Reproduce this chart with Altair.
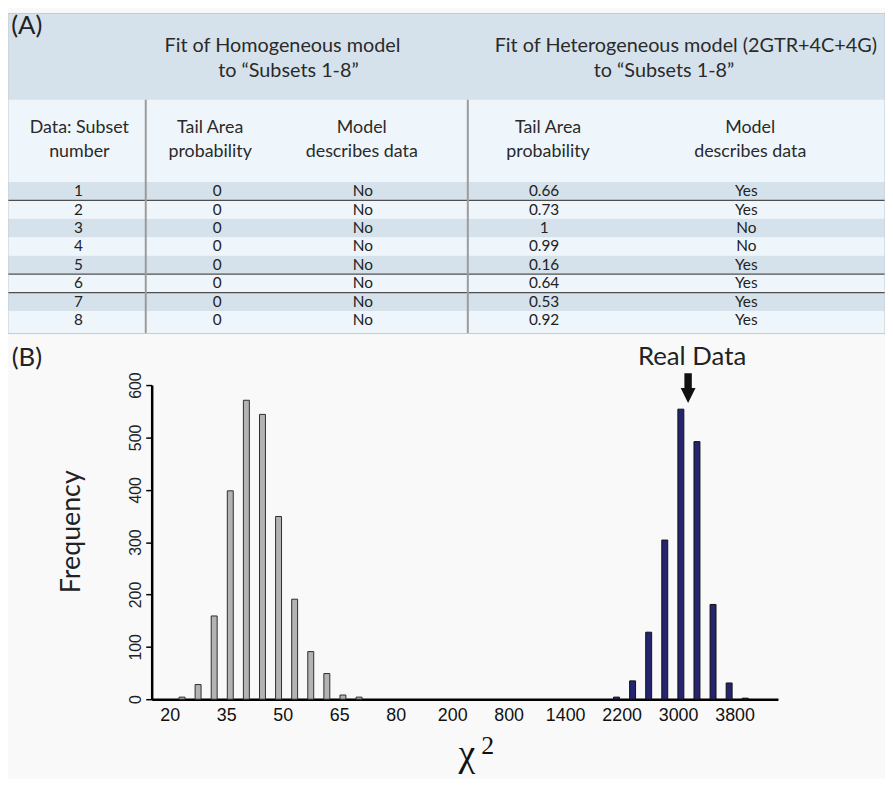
import altair as alt
import pandas as pd

# ---------------- data: table (A) ----------------
subset_number = ["1", "2", "3", "4", "5", "6", "7", "8"]
homogeneous_tail = ["0", "0", "0", "0", "0", "0", "0", "0"]
homogeneous_fit = ["No", "No", "No", "No", "No", "No", "No", "No"]
heterogeneous_tail = ["0.66", "0.73", "1", "0.99", "0.16", "0.64", "0.53", "0.92"]
heterogeneous_fit = ["Yes", "Yes", "No", "No", "Yes", "Yes", "Yes", "Yes"]

header_homogeneous = ["Fit of Homogeneous model", "to \u201cSubsets 1-8\u201d"]
header_heterogeneous = ["Fit of Heterogeneous model (2GTR+4C+4G)", "to \u201cSubsets 1-8\u201d"]
column_heads = [
    ["Data: Subset", "number"],
    ["Tail Area", "probability"],
    ["Model", "describes data"],
    ["Tail Area", "probability"],
    ["Model", "describes data"],
]

# ---------------- data: histogram (B) ----------------
null_bins = [0, 1, 2, 3, 4, 5, 6, 7, 8, 9, 10, 11]
null_counts = [4, 28, 159, 398, 571, 544, 349, 191, 91, 49, 8, 4]
real_bins = [27, 28, 29, 30, 31, 32, 33, 34, 35]
real_counts = [4, 35, 128, 304, 554, 492, 181, 31, 2]
tick_labels = ["20", "35", "50", "65", "80", "200", "800", "1400", "2200", "3000", "3800"]
tick_slots = [-0.73, 2.78, 6.29, 9.80, 13.31, 16.82, 20.33, 23.84, 27.35, 30.86, 34.37]
real_data_slot = 31.45

# ---------------- layout (pixels) ----------------
H_W, H_H = 632, 317
TABLE_W, TABLE_H = 885, 323
HEADER_BOTTOM, SUBHEAD_BOTTOM, ROW_H = 87, 170, 18.6
DARK, LIGHT = "#d6e2eb", "#eef6fc"
cell_x = [71, 211, 358, 541, 745]
head_x = [72, 204, 357, 545, 749]
head_y = [116, 140]
title_y = [33, 58]
left_title_x = [277, 283]
right_title_x = [684, 662]
divider_x = [139, 464]
dark_line_after = [1, 5, 6]

TX = alt.Scale(domain=[0, TABLE_W], range=[-145, 740], nice=False, zero=False)
TY = alt.Scale(domain=[0, TABLE_H], range=[-375, -52], nice=False, zero=False)
TFONT = "Lato"


def tx(f):
    return alt.X(f, type="quantitative", scale=TX, axis=None)


def tx2(f):
    return alt.X2(f)


def ty(f):
    return alt.Y(f, type="quantitative", scale=TY, axis=None)


# row bands
bands = []
for i in range(8):
    top = SUBHEAD_BOTTOM + i * ROW_H
    bottom = top + ROW_H if i < 7 else TABLE_H
    bands.append({"x0": 0, "x1": TABLE_W, "y0": top, "y1": bottom,
                  "shade": "dark" if i % 2 == 0 else "light"})
bands.append({"x0": 0, "x1": TABLE_W, "y0": 0, "y1": HEADER_BOTTOM, "shade": "dark"})
bands.append({"x0": 0, "x1": TABLE_W, "y0": HEADER_BOTTOM, "y1": SUBHEAD_BOTTOM, "shade": "light"})
bands_df = pd.DataFrame(bands)

dark_bands = alt.Chart(bands_df).transform_filter("datum.shade == 'dark'").mark_rect(fill=DARK).encode(
    x=tx("x0"), x2=tx2("x1"), y=ty("y0"), y2=alt.Y2("y1"))
light_bands = alt.Chart(bands_df).transform_filter("datum.shade == 'light'").mark_rect(fill=LIGHT).encode(
    x=tx("x0"), x2=tx2("x1"), y=ty("y0"), y2=alt.Y2("y1"))

border = alt.Chart(pd.DataFrame([{"x0": 0, "x1": TABLE_W, "y0": 0, "y1": TABLE_H}])).mark_rect(
    filled=False, stroke="#c3cad0", strokeWidth=1).encode(
    x=tx("x0"), x2=tx2("x1"), y=ty("y0"), y2=alt.Y2("y1"))

dividers = alt.Chart(pd.DataFrame([{"x": x, "y0": HEADER_BOTTOM, "y1": TABLE_H} for x in divider_x])).mark_rule(
    stroke="#9b9b9b", strokeWidth=2).encode(x=tx("x"), y=ty("y0"), y2=alt.Y2("y1"))

dark_lines = alt.Chart(pd.DataFrame([{"y": SUBHEAD_BOTTOM + r * ROW_H, "x0": 0, "x1": TABLE_W}
                                     for r in dark_line_after])).mark_rule(
    stroke="#4f4f4f", strokeWidth=1.3).encode(y=ty("y"), x=tx("x0"), x2=tx2("x1"))

# header texts
title_rows = []
for k in range(2):
    title_rows.append({"x": left_title_x[k], "y": title_y[k], "t": header_homogeneous[k]})
    title_rows.append({"x": right_title_x[k], "y": title_y[k], "t": header_heterogeneous[k]})
titles = alt.Chart(pd.DataFrame(title_rows)).mark_text(
    font=TFONT, fontSize=20, color="#2a2a2a", baseline="middle", align="center").encode(
    x=tx("x"), y=ty("y"), text="t:N")

panel_a = alt.Chart(pd.DataFrame([{"x": 19, "y": 13, "t": "(A)"}])).mark_text(
    font=TFONT, fontSize=26, color="#222", baseline="middle", align="center").encode(
    x=tx("x"), y=ty("y"), text="t:N")

head_rows = []
for c, lines in enumerate(column_heads):
    for k, line in enumerate(lines):
        head_rows.append({"x": head_x[c], "y": head_y[k], "t": line})
heads = alt.Chart(pd.DataFrame(head_rows)).mark_text(
    font=TFONT, fontSize=18, color="#2a2a2a", baseline="middle", align="center").encode(
    x=tx("x"), y=ty("y"), text="t:N")

cell_rows = []
columns = [subset_number, homogeneous_tail, homogeneous_fit, heterogeneous_tail, heterogeneous_fit]
for i in range(8):
    for c, col in enumerate(columns):
        cell_rows.append({"x": cell_x[c], "y": SUBHEAD_BOTTOM + i * ROW_H + ROW_H / 2, "t": col[i]})
cells = alt.Chart(pd.DataFrame(cell_rows)).mark_text(
    font=TFONT, fontSize=15.5, color="#222", baseline="middle", align="center").encode(
    x=tx("x"), y=ty("y"), text="t:N")

table = alt.layer(light_bands, dark_bands, dark_lines, dividers, border, titles, panel_a, heads, cells)

# ---------------- histogram ----------------
HX = alt.Scale(domain=[-1.576, 36.727], nice=False, zero=False)
HY = alt.Scale(domain=[0, 600], nice=False, zero=False)
x_axis = alt.Axis(orient="bottom", labels=False, ticks=False, grid=False, title=None,
                  domainColor="#000", domainWidth=2.5)
y_axis = alt.Axis(orient="left", values=[0, 100, 200, 300, 400, 500, 600], grid=False, title=None,
                  domainColor="#000", domainWidth=2.5, tickColor="#000", tickWidth=1.5, tickSize=6,
                  labelAngle=270, labelAlign="center", labelBaseline="alphabetic", labelPadding=5,
                  labelFont="Liberation Sans", labelFontSize=16, labelColor="#222")


def hx(f):
    return alt.X(f, type="quantitative", scale=HX, axis=x_axis)


def hy(f):
    return alt.Y(f, type="quantitative", scale=HY, axis=y_axis)


null_df = pd.DataFrame({"slot": null_bins, "count": null_counts})
real_df = pd.DataFrame({"slot": real_bins, "count": real_counts})

null_bars = alt.Chart(null_df).mark_bar(size=6, fill="#b3b3b3", stroke="#2e2e2e", strokeWidth=1).encode(
    x=hx("slot"), y=hy("count"))
real_bars = alt.Chart(real_df).mark_bar(size=6, fill="#25256f", stroke="#111", strokeWidth=1).encode(
    x=hx("slot"), y=hy("count"))

ticks_df = pd.DataFrame({"slot": tick_slots, "label": tick_labels})
tick_text = alt.Chart(ticks_df).mark_text(
    font="Liberation Sans", fontSize=18, color="#111", baseline="middle", align="center").encode(
    x=hx("slot"), y=alt.value(H_H + 17), text="label:N")

ARROW = "M-0.25,-1L0.25,-1L0.25,0L0.5,0L0,1L-0.5,0L-0.25,0Z"
annot_df = pd.DataFrame({"slot": [real_data_slot], "label": ["Real Data"]})
arrow = alt.Chart(annot_df).mark_point(shape=ARROW, filled=True, fill="#111", opacity=1,
                                        strokeWidth=0, size=900).encode(
    x=hx("slot"), y=alt.value(3))
real_label = alt.Chart(annot_df).mark_text(
    font=TFONT, fontSize=26, color="#222", baseline="middle", align="center", dx=4).encode(
    x=hx("slot"), y=alt.value(-28), text="label:N")

panel_b = alt.Chart(pd.DataFrame({"t": ["(B)"]})).mark_text(
    font=TFONT, fontSize=26, color="#222", baseline="middle", align="center").encode(
    x=alt.value(-126), y=alt.value(-27), text="t:N")
freq = alt.Chart(pd.DataFrame({"t": ["Frequency"]})).mark_text(
    font=TFONT, fontSize=27, color="#222", baseline="middle", align="center", angle=270).encode(
    x=alt.value(-80), y=alt.value(148), text="t:N")
chi = alt.Chart(pd.DataFrame({"t": ["\u03c7"]})).mark_text(
    font="Liberation Serif", fontSize=38, color="#111", baseline="alphabetic", align="center").encode(
    x=alt.value(318), y=alt.value(384), text="t:N")
chi_sup = alt.Chart(pd.DataFrame({"t": ["2"]})).mark_text(
    font="Liberation Serif", fontSize=26, color="#111", baseline="middle", align="center").encode(
    x=alt.value(339), y=alt.value(364), text="t:N")

hist = alt.layer(null_bars, real_bars, tick_text, arrow, real_label, panel_b, freq, chi, chi_sup)

chart = alt.layer(table, hist).resolve_scale(x="independent", y="independent").properties(
    width=H_W, height=H_H,
    padding={"left": 145, "top": 377, "right": 108, "bottom": 77},
    autosize=alt.AutoSizeParams(type="none"),
    background="#f9f9f9",
).configure_view(stroke=None)

chart.save("out.html", embed_options={"renderer": "svg", "actions": False})
